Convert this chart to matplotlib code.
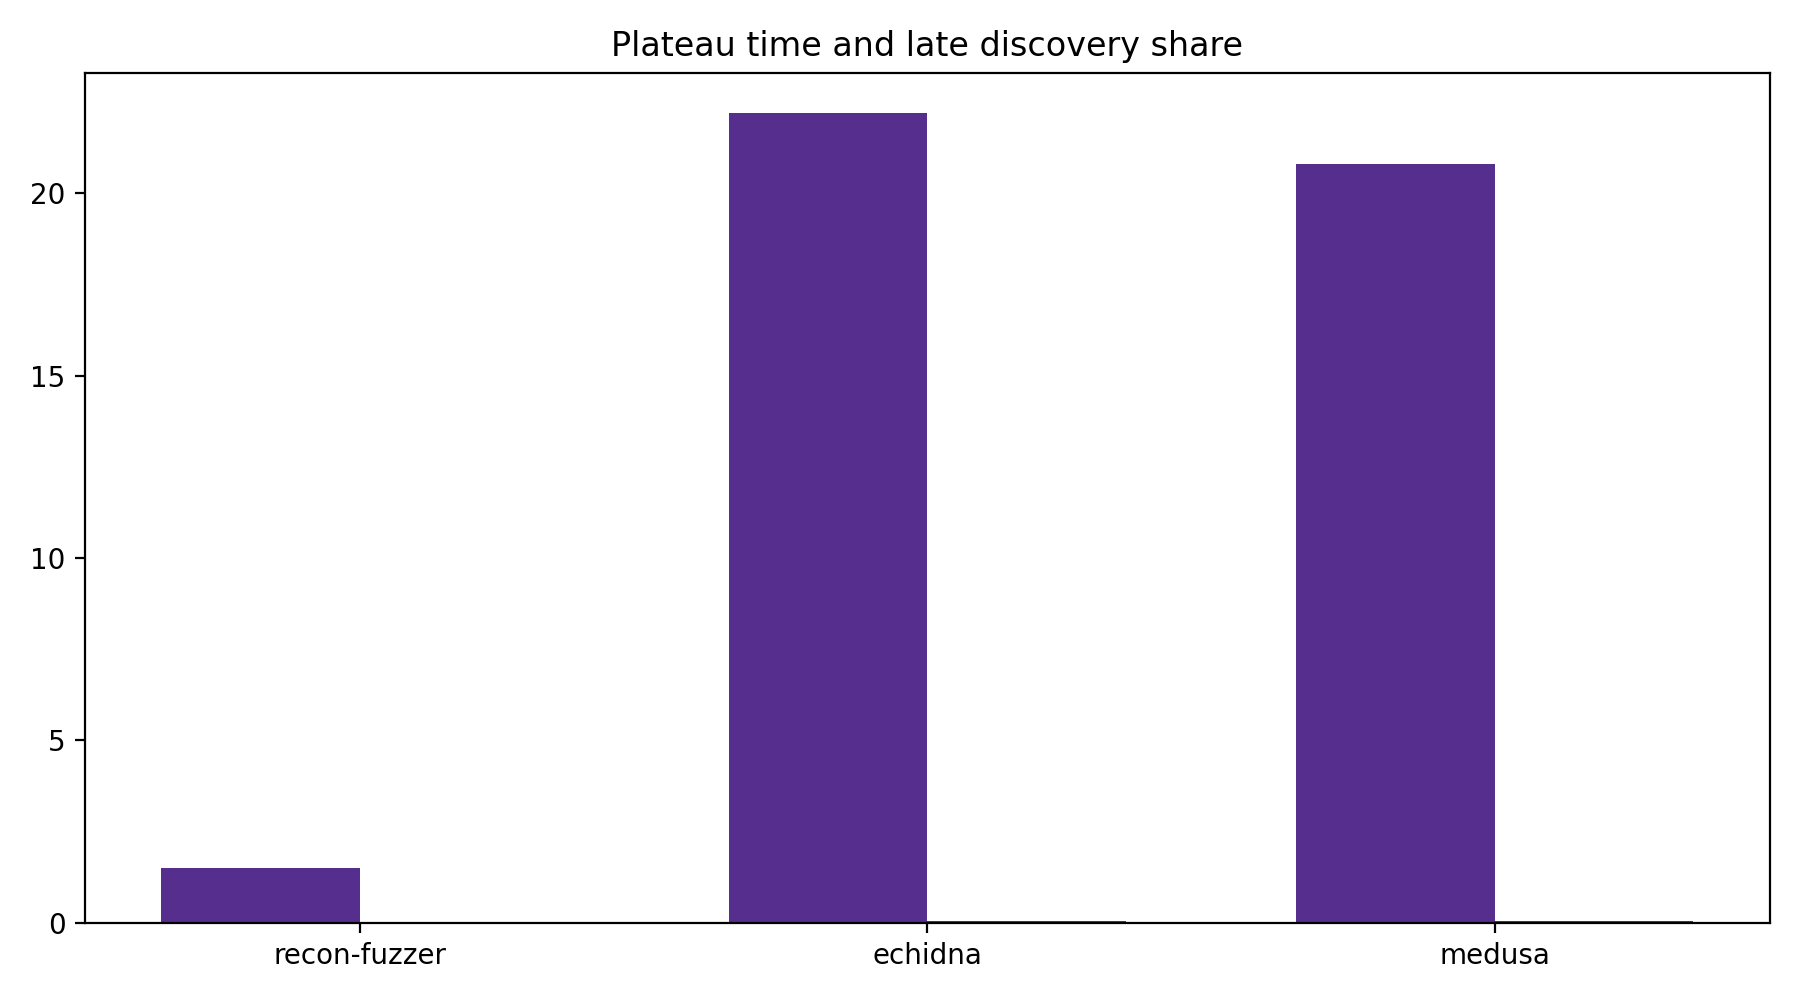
import matplotlib

matplotlib.use("Agg")
import matplotlib.pyplot as plt
import numpy as np

tools = ["recon-fuzzer", "echidna", "medusa"]
plateau_time = [1.5, 22.2, 20.8]
late_share = [0.0, 0.04, 0.04]

COLOR = "#562f8e"

x = np.arange(len(tools))
w = 0.35

fig, ax = plt.subplots(figsize=(9, 5), dpi=200)
ax.bar(x - w / 2, plateau_time, w, color=COLOR, label="plateau time")
ax.bar(x + w / 2, late_share, w, color=COLOR, label="late discovery share")
ax.set_xticks(x)
ax.set_xticklabels(tools)
ax.set_title("Plateau time and late discovery share")
fig.tight_layout()
fig.savefig("out.png", dpi=200)
plt.close(fig)
